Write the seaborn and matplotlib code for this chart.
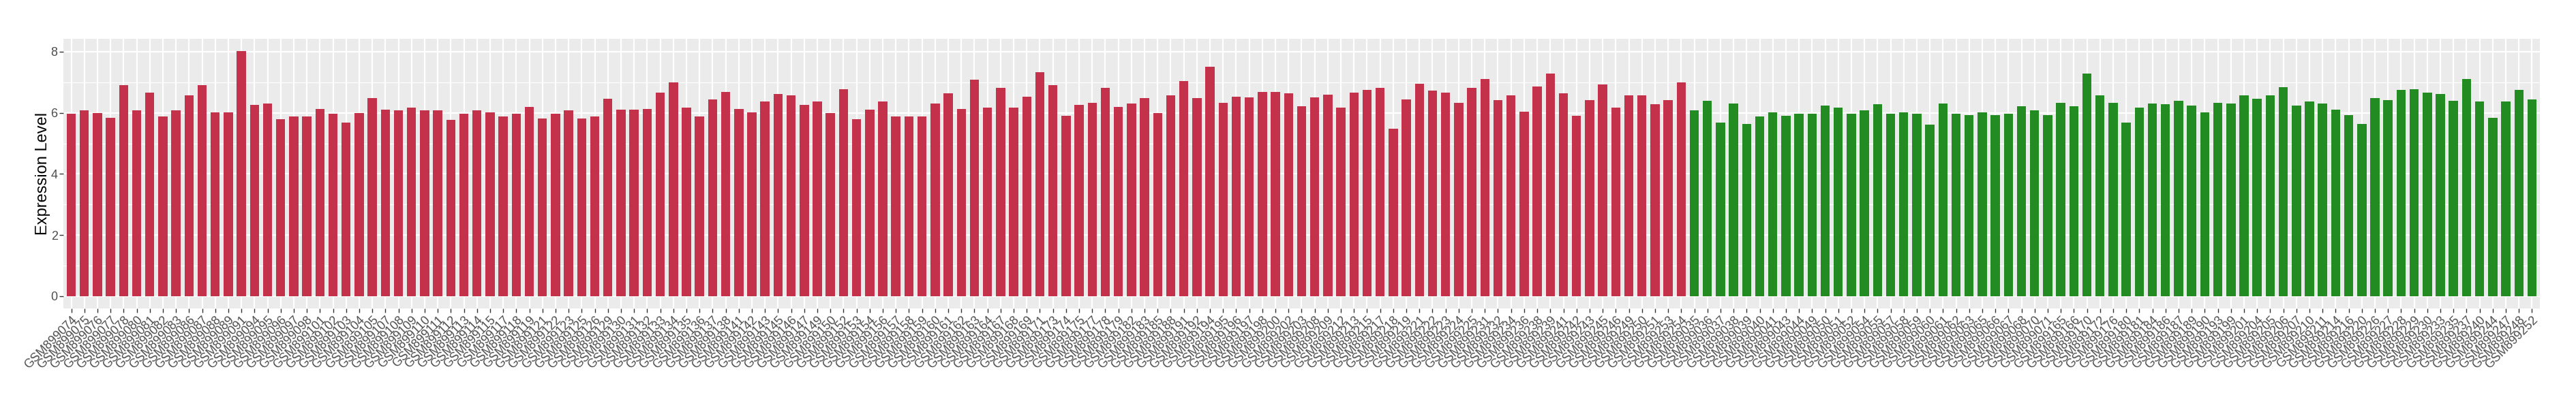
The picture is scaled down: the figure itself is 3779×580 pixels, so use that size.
import matplotlib
matplotlib.use("Agg")
import matplotlib.pyplot as plt
from matplotlib.ticker import MultipleLocator
import seaborn as sns
import pandas as pd

# samples of the first group (red) and their expression levels
red_samples = [
    "GSM899074", "GSM899075", "GSM899076", "GSM899077", "GSM899078", "GSM899080", "GSM899081", "GSM899082",
    "GSM899083", "GSM899086", "GSM899087", "GSM899088", "GSM899089", "GSM899091", "GSM899094", "GSM899095",
    "GSM899096", "GSM899097", "GSM899098", "GSM899101", "GSM899102", "GSM899103", "GSM899104", "GSM899105",
    "GSM899107", "GSM899108", "GSM899109", "GSM899110", "GSM899111", "GSM899112", "GSM899113", "GSM899114",
    "GSM899115", "GSM899117", "GSM899118", "GSM899119", "GSM899121", "GSM899122", "GSM899123", "GSM899125",
    "GSM899126", "GSM899129", "GSM899130", "GSM899131", "GSM899132", "GSM899133", "GSM899134", "GSM899135",
    "GSM899136", "GSM899137", "GSM899138", "GSM899141", "GSM899142", "GSM899143", "GSM899145", "GSM899146",
    "GSM899147", "GSM899149", "GSM899150", "GSM899152", "GSM899153", "GSM899154", "GSM899156", "GSM899157",
    "GSM899158", "GSM899159", "GSM899160", "GSM899161", "GSM899162", "GSM899163", "GSM899164", "GSM899167",
    "GSM899168", "GSM899169", "GSM899171", "GSM899173", "GSM899174", "GSM899175", "GSM899177", "GSM899178",
    "GSM899179", "GSM899182", "GSM899183", "GSM899185", "GSM899188", "GSM899191", "GSM899192", "GSM899194",
    "GSM899195", "GSM899196", "GSM899197", "GSM899198", "GSM899200", "GSM899202", "GSM899203", "GSM899208",
    "GSM899209", "GSM899212", "GSM899213", "GSM899215", "GSM899217", "GSM899218", "GSM899219", "GSM899221",
    "GSM899222", "GSM899223", "GSM899224", "GSM899225", "GSM899231", "GSM899232", "GSM899234", "GSM899236",
    "GSM899238", "GSM899239", "GSM899241", "GSM899242", "GSM899243", "GSM899245", "GSM899246", "GSM899249",
    "GSM899250", "GSM899251", "GSM899253", "GSM899254",
]
red_values = [
    5.96, 6.09, 6.00, 5.84, 6.91, 6.09, 6.67, 5.87, 6.09, 6.56, 6.91, 6.02, 6.02, 8.02, 6.27, 6.31,
    5.80, 5.89, 5.87, 6.13, 5.98, 5.67, 6.00, 6.49, 6.11, 6.07, 6.16, 6.09, 6.07, 5.78, 5.96, 6.07,
    6.02, 5.87, 5.96, 6.20, 5.82, 5.98, 6.07, 5.82, 5.87, 6.47, 6.11, 6.11, 6.13, 6.67, 7.00, 6.18,
    5.87, 6.44, 6.69, 6.13, 6.02, 6.36, 6.62, 6.56, 6.27, 6.36, 6.00, 6.78, 5.80, 6.11, 6.36, 5.89,
    5.87, 5.87, 6.31, 6.64, 6.13, 7.09, 6.16, 6.82, 6.18, 6.53, 7.33, 6.91, 5.91, 6.27, 6.33, 6.82,
    6.20, 6.31, 6.49, 6.00, 6.58, 7.04, 6.49, 7.51, 6.33, 6.53, 6.51, 6.69, 6.69, 6.64, 6.22, 6.51,
    6.60, 6.18, 6.67, 6.76, 6.82, 5.47, 6.44, 6.96, 6.73, 6.67, 6.33, 6.82, 7.11, 6.42, 6.58, 6.04,
    6.87, 7.29, 6.64, 5.91, 6.42, 6.93, 6.16, 6.58, 6.56, 6.29, 6.42, 7.00,
]

# samples of the second group (green)
green_samples = [
    "GSM899035", "GSM899036", "GSM899037", "GSM899038", "GSM899039", "GSM899040", "GSM899041", "GSM899043",
    "GSM899044", "GSM899049", "GSM899050", "GSM899051", "GSM899052", "GSM899054", "GSM899055", "GSM899057",
    "GSM899058", "GSM899059", "GSM899060", "GSM899061", "GSM899062", "GSM899063", "GSM899065", "GSM899066",
    "GSM899067", "GSM899068", "GSM899070", "GSM899071", "GSM899165", "GSM899166", "GSM899170", "GSM899172",
    "GSM899176", "GSM899180", "GSM899181", "GSM899184", "GSM899186", "GSM899187", "GSM899189", "GSM899190",
    "GSM899193", "GSM899199", "GSM899201", "GSM899204", "GSM899205", "GSM899206", "GSM899207", "GSM899210",
    "GSM899211", "GSM899214", "GSM899216", "GSM899220", "GSM899226", "GSM899227", "GSM899228", "GSM899229",
    "GSM899230", "GSM899233", "GSM899235", "GSM899237", "GSM899240", "GSM899244", "GSM899247", "GSM899248",
    "GSM899252",
]
green_values = [
    6.09, 6.40, 5.67, 6.31, 5.64, 5.89, 6.02, 5.91, 5.98, 5.98, 6.24, 6.16, 5.98, 6.07, 6.29, 5.96,
    6.02, 5.98, 5.62, 6.31, 5.96, 5.93, 6.02, 5.93, 5.98, 6.22, 6.07, 5.93, 6.33, 6.22, 7.29, 6.58,
    6.33, 5.69, 6.16, 6.31, 6.29, 6.40, 6.24, 6.02, 6.33, 6.31, 6.56, 6.47, 6.58, 6.84, 6.24, 6.36,
    6.31, 6.11, 5.93, 5.64, 6.49, 6.42, 6.76, 6.78, 6.67, 6.62, 6.40, 7.11, 6.38, 5.84, 6.36, 6.76,
    6.44,
]

RED = "#C3314A"
GREEN = "#228B22"

df = pd.DataFrame({
    "sample": red_samples + green_samples,
    "value": red_values + green_values,
    "group": ["red"] * len(red_samples) + ["green"] * len(green_samples),
})
order = red_samples + green_samples
n = len(order)

plt.rcParams["font.family"] = ["Liberation Sans", "DejaVu Sans"]

fig = plt.figure(figsize=(37.8, 5.8), dpi=100)
ax = fig.add_axes([0.0246, 0.219, 0.9611, 0.6828])
ax.set_facecolor("#EBEBEB")

sns.barplot(data=df, x="sample", y="value", hue="group", order=order,
            palette={"red": RED, "green": GREEN}, dodge=False, width=0.7,
            saturation=1, legend=False, ax=ax, zorder=3)

ymax = max(df["value"])
ax.set_xlim(-0.6, n - 1 + 0.6)
ax.set_ylim(-0.05 * ymax, 1.05 * ymax)
ax.yaxis.set_major_locator(MultipleLocator(2))
ax.yaxis.set_minor_locator(MultipleLocator(1))

ax.set_axisbelow(True)
ax.grid(which="major", axis="both", color="white", linewidth=1.6, zorder=0)
ax.grid(which="minor", axis="y", color="white", linewidth=0.8, zorder=0)
for s in ax.spines.values():
    s.set_visible(False)

ax.tick_params(which="major", length=4, width=1, color="#333333", labelcolor="#4D4D4D",
               labelsize=13, pad=2)
ax.tick_params(which="minor", length=0)
ax.set_xticks(range(n))
ax.set_xticklabels(order, rotation=45, ha="right", va="top", rotation_mode="anchor")

ax.set_xlabel("")
ax.set_ylabel("Expression Level", fontsize=17, color="black")
ax.yaxis.set_label_coords(-0.0052, 0.5)

fig.savefig("out.png", dpi=100, facecolor="white")
